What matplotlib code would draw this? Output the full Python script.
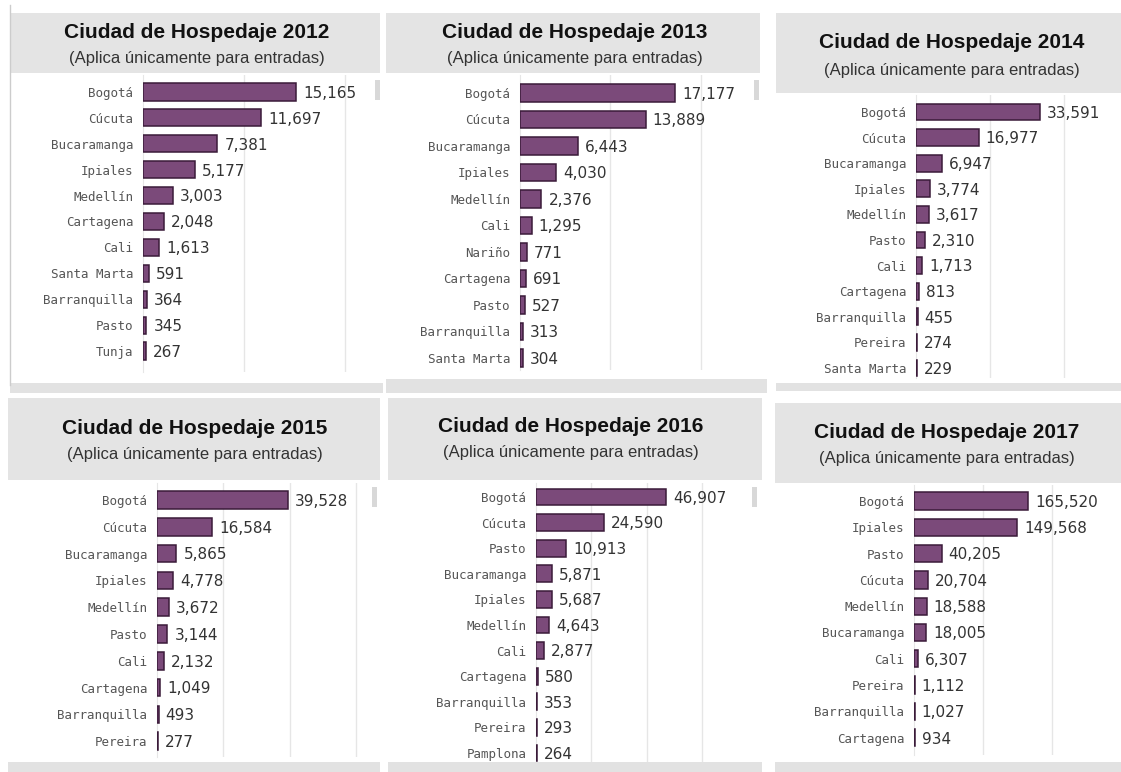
import matplotlib
matplotlib.use("Agg")
import matplotlib.pyplot as plt
from matplotlib.patches import Rectangle

W, H = 1121, 772

# data, one list pair per year (top to bottom as shown)
years = [2012, 2013, 2014, 2015, 2016, 2017]

cities_2012 = ["Bogotá", "Cúcuta", "Bucaramanga", "Ipiales", "Medellín", "Cartagena",
               "Cali", "Santa Marta", "Barranquilla", "Pasto", "Tunja"]
values_2012 = [15165, 11697, 7381, 5177, 3003, 2048, 1613, 591, 364, 345, 267]

cities_2013 = ["Bogotá", "Cúcuta", "Bucaramanga", "Ipiales", "Medellín", "Cali",
               "Nariño", "Cartagena", "Pasto", "Barranquilla", "Santa Marta"]
values_2013 = [17177, 13889, 6443, 4030, 2376, 1295, 771, 691, 527, 313, 304]

cities_2014 = ["Bogotá", "Cúcuta", "Bucaramanga", "Ipiales", "Medellín", "Pasto",
               "Cali", "Cartagena", "Barranquilla", "Pereira", "Santa Marta"]
values_2014 = [33591, 16977, 6947, 3774, 3617, 2310, 1713, 813, 455, 274, 229]

cities_2015 = ["Bogotá", "Cúcuta", "Bucaramanga", "Ipiales", "Medellín", "Pasto",
               "Cali", "Cartagena", "Barranquilla", "Pereira"]
values_2015 = [39528, 16584, 5865, 4778, 3672, 3144, 2132, 1049, 493, 277]

cities_2016 = ["Bogotá", "Cúcuta", "Pasto", "Bucaramanga", "Ipiales", "Medellín",
               "Cali", "Cartagena", "Barranquilla", "Pereira", "Pamplona"]
values_2016 = [46907, 24590, 10913, 5871, 5687, 4643, 2877, 580, 353, 293, 264]

cities_2017 = ["Bogotá", "Ipiales", "Pasto", "Cúcuta", "Medellín", "Bucaramanga",
               "Cali", "Pereira", "Barranquilla", "Cartagena"]
values_2017 = [165520, 149568, 40205, 20704, 18588, 18005, 6307, 1112, 1027, 934]

all_cities = [cities_2012, cities_2013, cities_2014, cities_2015, cities_2016, cities_2017]
all_values = [values_2012, values_2013, values_2014, values_2015, values_2016, values_2017]

# panel layout in pixels: header box, plot box, first row / row step, x range, gridlines
headers = [(10, 380, 13, 73), (386, 760, 13, 73), (776, 1121, 13, 93),
           (8, 380, 398, 480), (388, 762, 398, 480), (775, 1121, 403, 483)]
title_pos = [(197, 33, 58), (575, 33, 58), (952, 43, 70),
             (195, 429, 455), (571, 427, 452), (947, 432, 458)]
plot_boxes = [(143, 375, 75, 372), (520, 755, 75, 370), (916, 1121, 95, 378),
              (157, 373, 483, 757), (536, 752, 483, 762), (914, 1121, 485, 755)]
rows = [(92, 25.9), (93, 26.5), (112, 25.6), (500, 26.8), (497, 25.6), (501, 26.3)]
xmaxes = [23000, 26000, 55500, 65000, 78000, 300000]
grids = [[10000, 20000], [10000, 20000], [20000, 40000],
         [20000, 40000, 60000], [20000, 40000, 60000], [100000, 200000]]
bottom_strips = [(10, 383, 383, 393), (386, 767, 379, 393), (776, 1121, 383, 391),
                 (8, 380, 762, 772), (388, 762, 762, 772), (775, 1121, 762, 772)]
scroll_thumbs = [(375, 380, 80, 100), (754, 759, 80, 100),
                 (372, 377, 487, 507), (752, 757, 487, 507)]

bar_color = "#7b4a7a"
edge_color = "#3a1b39"
header_color = "#e4e4e4"


def fig_rect(x0, x1, y0, y1, color):
    return Rectangle((x0 / W, 1 - y1 / H), (x1 - x0) / W, (y1 - y0) / H,
                     transform=fig.transFigure, facecolor=color, edgecolor="none")


fig = plt.figure(figsize=(W / 100, H / 100), dpi=100)
fig.patch.set_facecolor("white")

for k in range(6):
    hx0, hx1, hy0, hy1 = headers[k]
    fig.add_artist(fig_rect(hx0, hx1, hy0, hy1, header_color))
    tx, ty, sy = title_pos[k]
    fig.text(tx / W, 1 - ty / H, f"Ciudad de Hospedaje {years[k]}",
             ha="center", va="center", fontsize=15, fontweight="bold",
             family="Liberation Sans", color="#111111")
    fig.text(tx / W, 1 - sy / H, "(Aplica únicamente para entradas)",
             ha="center", va="center", fontsize=12, family="Liberation Sans",
             color="#333333")
    bx0, bx1, by0, by1 = bottom_strips[k]
    fig.add_artist(fig_rect(bx0, bx1, by0, by1, "#e2e2e2"))

    px0, px1, py0, py1 = plot_boxes[k]
    ax = fig.add_axes([px0 / W, 1 - py1 / H, (px1 - px0) / W, (py1 - py0) / H])
    ax.set_facecolor("white")
    cities = all_cities[k]
    vals = all_values[k]
    n = len(cities)
    first, step = rows[k]
    ax.barh(range(n), vals, height=0.66, color=bar_color, edgecolor=edge_color,
            linewidth=1.1, zorder=3)
    for i, v in enumerate(vals):
        ax.annotate(f"{v:,}", (v, i), xytext=(5, -1), textcoords="offset points",
                    ha="left", va="center", fontsize=11, color="#333333",
                    family="DejaVu Sans", zorder=4)
    for g in grids[k]:
        ax.axvline(g, color="#e6e6e6", lw=1, zorder=1)
    ax.set_xlim(0, xmaxes[k])
    ax.set_ylim((py1 - first) / step, (py0 - first) / step)
    ax.set_yticks(range(n), cities, fontsize=9, family="DejaVu Sans Mono",
                  color="#555555")
    ax.tick_params(axis="y", length=0, pad=7)
    ax.set_xticks([])
    for s in ["top", "right", "bottom"]:
        ax.spines[s].set_visible(False)
    ax.spines["left"].set_color("#e6e6e6")

for sx0, sx1, sy0, sy1 in scroll_thumbs:
    fig.add_artist(fig_rect(sx0, sx1, sy0, sy1, "#d8d8d8"))

# thin frame line on the far left
fig.add_artist(plt.Line2D([10 / W, 10 / W], [1 - 5 / H, 1 - 385 / H],
                          transform=fig.transFigure, color="#cccccc", lw=1))

fig.savefig("out.png", dpi=100)
